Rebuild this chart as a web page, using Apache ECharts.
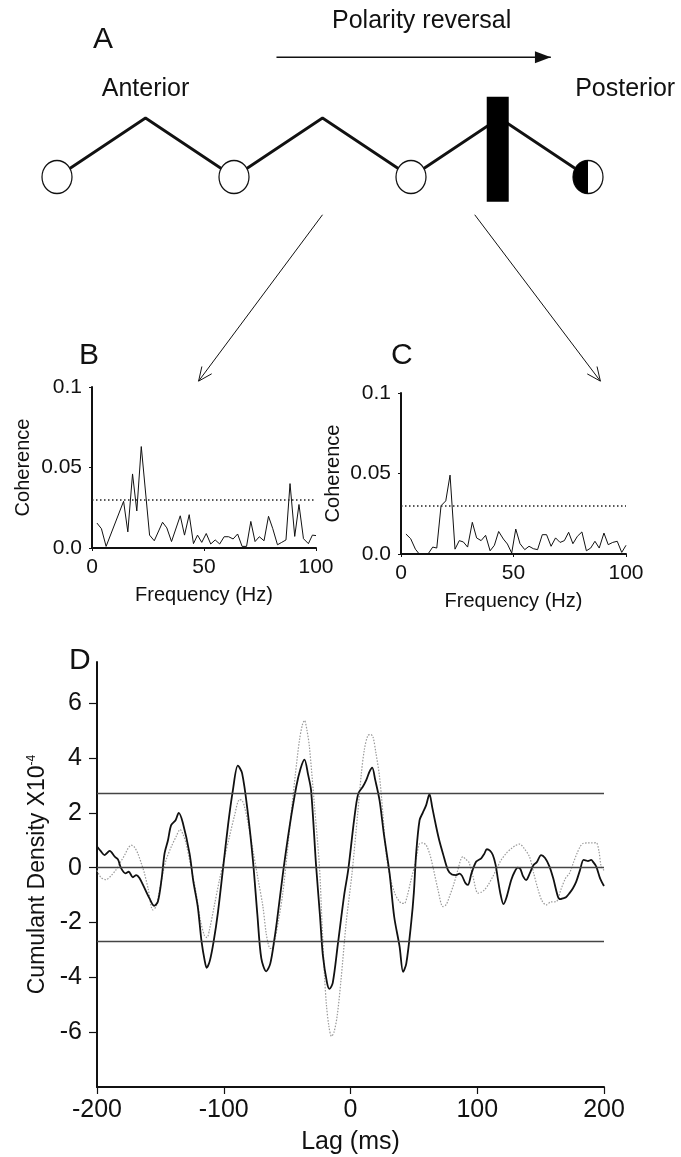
<!DOCTYPE html>
<html>
<head>
<meta charset="utf-8">
<script src="https://cdn.jsdelivr.net/npm/echarts@6/dist/echarts.min.js"></script>
<style>
  html, body { margin: 0; padding: 0; background: #fff; }
  #chart { width: 681px; height: 1157px; }
</style>
</head>
<body>
<div id="chart"></div>
<script>
// Panel A schematic, in node units (nodes at x = 0..3, zigzag peak at y = 1)
const nodeX = [0, 1, 2, 3];
const zigzagX = [0, 0.5, 1, 1.5, 2, 2.5, 3];
const zigzagY = [0, 1, 0, 1, 0, 1, 0];
const blockAt = [2.49, 0.47];
const labelsA = ["A", "Polarity reversal", "Anterior", "Posterior"];
const labelsAX = [0.26, 2.06, 0.5, 3.21];
const labelsAY = [2.33, 2.64, 1.49, 1.49];
// arrows: x0, y0, x1, y1, filled head (1) or open head (0)
const arrowsA = [
  [1.24, 2.03, 2.79, 2.03, 1],
  [1.5, -0.64, 0.8, -3.46, 0],
  [2.36, -0.64, 3.07, -3.46, 0],
];

// Panel B and C: coherence spectra
const freqB = [2.2, 4.2, 6.3, 14.1, 16.0, 18.1, 20.0, 22.0, 25.7, 27.8, 31.5, 33.4, 35.5, 39.4, 41.3,
  43.4, 45.3, 47.1, 49.0, 51.0, 53.0, 55.0, 57.0, 59.0, 61.0, 63.0, 65.0, 67.0, 69.0, 70.9,
  72.8, 74.7, 76.8, 78.8, 80.7, 82.8, 84.7, 86.6, 88.4, 90.5, 92.4, 94.4, 96.6, 98.4, 100];
const cohB = [0.0155, 0.012, 0.001, 0.029, 0.010, 0.046, 0.023, 0.063, 0.008, 0.0045, 0.016, 0.0125, 0.004, 0.020, 0.008,
  0.0207, 0.0027, 0.008, 0.0035, 0.009, 0.0025, 0.005, 0.0025, 0.007, 0.007, 0.0056, 0.0087, 0.001, 0.001, 0.0165,
  0.004, 0.007, 0.0045, 0.0197, 0.012, 0.002, 0.0035, 0.005, 0.040, 0.0072, 0.027, 0.0058, 0.0027, 0.008, 0.0077];
const freqC = [2.2, 4.3, 6.4, 8.1, 12.0, 14.1, 15.9, 17.8, 19.9, 21.8, 24.0, 25.9, 27.7, 29.6, 31.7,
  33.6, 35.6, 37.6, 39.6, 41.5, 43.4, 45.5, 47.3, 49.2, 51.0, 52.9, 55.0, 56.9, 58.8, 60.7,
  62.8, 64.7, 66.7, 68.7, 70.7, 72.6, 74.5, 76.4, 78.4, 80.4, 82.4, 84.3, 86.2, 88.1, 90.2,
  92.1, 94.1, 96.1, 98.1, 100];
const cohC = [0.0124, 0.0095, 0.003, 0, 0, 0.0043, 0.0037, 0.030, 0.033, 0.049, 0.003, 0.0083, 0.0075, 0.0043, 0.0197,
  0.010, 0.0083, 0.0116, 0.002, 0.0054, 0.014, 0.0093, 0.0062, 0.0006, 0.0155, 0.0064, 0.0027, 0.0048, 0.0033, 0.0027,
  0.012, 0.012, 0.0048, 0.010, 0.0072, 0.0083, 0.0135, 0.0064, 0.011, 0.0137, 0.002, 0.0037, 0.0079, 0.0037, 0.013,
  0.0058, 0.0072, 0.0079, 0.001, 0.0054];
const cohLimit = 0.03;

// Panel D: cumulant density (x10^-4) against lag (ms)
const lagSolid = [-200, -197, -194, -190, -186, -183.5, -181, -177.5, -175, -171.7, -169, -166.5, -162.5, -158.6, -155,
  -152, -149, -146.7, -144, -141.5, -138, -135.5, -132.3, -127, -124, -120.5, -117.5, -115, -113.5, -111,
  -108, -104.5, -100.7, -96.5, -92.8, -88.9, -85.5, -81, -77, -73.5, -70.4, -66.5, -63.3, -60, -57.9,
  -53, -48.1, -42.8, -39.5, -36.3, -33.5, -31.1, -27.1, -24, -21.8, -18.5, -16.6, -14, -10, -5,
  -1.8, 3, 6.1, 9.7, 12.5, 15, 17.1, 19.5, 22.9, 26.4, 30.8, 34.5, 38.7, 41.5, 44,
  47.9, 50, 51.8, 54.5, 57, 59.7, 62.3, 64.5, 67.6, 70, 72.9, 76.8, 80, 83.4, 86,
  88, 90.5, 92.6, 95.5, 99.2, 103.1, 105.5, 107.6, 110, 112.3, 114.5, 116.2, 118.5, 120.7, 123,
  126.8, 129.5, 132, 134, 136, 138.6, 141.5, 144.4, 147, 150.4, 153.5, 157, 160, 163.6, 165.5,
  167.5, 170, 172.8, 175.5, 178.1, 181, 183.9, 186, 187.3, 189.9, 191.5, 193.9, 197, 200];
const cumSolid = [0.77, 0.6, 0.46, 0.61, 0.4, 0.3, -0.02, -0.21, -0.15, -0.35, -0.27, -0.38, -0.75, -1.12, -1.39,
  -1.24, -0.4, 0.52, 1.0, 1.55, 1.73, 2.0, 1.64, 0.52, -0.5, -1.42, -2.7, -3.4, -3.65, -3.4,
  -2.7, -1.6, -0.08, 1.6, 2.82, 3.72, 3.44, 2.0, 0.28, -1.7, -3.3, -3.78, -3.5, -2.6, -1.9,
  -0.1, 1.49, 2.95, 3.6, 3.94, 3.4, 2.82, 0.04, -1.8, -3.2, -4.2, -4.42, -4.2, -2.8, -1.0,
  -0.08, 1.8, 2.7, 2.95, 3.2, 3.5, 3.65, 3.2, 2.46, 1.2, -0.2, -1.8, -2.87, -3.8, -3.5,
  -2.0, -0.9, 0.52, 1.73, 2.0, 2.28, 2.68, 2.2, 1.49, 1.0, 0.52, -0.08, -0.25, -0.27, -0.22,
  -0.3, -0.55, -0.63, -0.2, 0.22, 0.34, 0.5, 0.67, 0.62, 0.46, 0.1, -0.39, -1.0, -1.33, -1.1,
  -0.45, -0.15, 0, -0.05, -0.3, -0.45, -0.2, 0.1, 0.2, 0.46, 0.35, 0.04, -0.4, -1.05, -1.15,
  -1.12, -1.08, -0.93, -0.75, -0.51, -0.1, 0.28, 0.26, 0.24, 0.28, 0.2, 0.04, -0.4, -0.67];
const lagDotted = [-200, -197, -193, -189, -185, -181.5, -178.3, -175.5, -173, -170.5, -167.8, -165, -162.6, -159.5, -156,
  -153.4, -151, -148, -145.5, -141.5, -137.6, -134.4, -132, -129.7, -125.8, -121.8, -118.5, -115.2, -113.2, -111.3,
  -107.5, -103.4, -99.5, -95.5, -91.5, -87.6, -85.5, -83.6, -80.3, -77, -73, -69.1, -66.5, -63.9, -62,
  -60, -56.7, -53.4, -50, -46.8, -43.5, -40.3, -38, -36.3, -34.3, -32.4, -28.5, -24.5, -22.5, -20.5,
  -19, -17, -15, -13, -10.5, -7.5, -3.4, 1.2, 5.7, 8.5, 10.9, 13.7, 16, 17.7, 20,
  22.9, 25.5, 28.1, 31.5, 35, 38, 40.5, 42.6, 44.6, 47.5, 50.4, 52.5, 54.5, 57, 59.7,
  62.5, 65, 69, 72.9, 75.5, 78.1, 81.5, 84.7, 87, 88.6, 91, 93.4, 96.5, 100.5, 103,
  105.5, 109, 112, 115, 118.5, 122.8, 127, 130, 133.4, 137, 141.2, 144.5, 148, 151, 154.4,
  158, 162.3, 166, 169.5, 172.8, 176, 178.5, 181, 183.3, 187, 190.5, 193.9, 196, 197.8, 200];
const cumDotted = [-0.1, -0.35, -0.44, -0.3, -0.08, 0.2, 0.45, 0.7, 0.82, 0.75, 0.52, 0.15, -0.2, -0.8, -1.54,
  -1.42, -0.9, -0.2, 0.28, 0.75, 1.13, 1.39, 1.2, 0.88, 0.0, -0.93, -1.9, -2.48, -2.55, -2.27,
  -1.4, -0.45, 0.35, 1.13, 1.9, 2.48, 2.45, 2.22, 1.5, 0.64, -0.4, -1.42, -2.4, -2.93, -2.95,
  -2.69, -1.9, -0.93, 0.5, 1.98, 3.4, 4.64, 5.2, 5.37, 5.0, 4.4, 2.3, 0.04, -2.0, -3.95,
  -5.0, -5.8, -6.15, -6.0, -5.4, -4.1, -2.0, -0.2, 1.98, 3.4, 4.3, 4.82, 4.85, 4.78, 4.2,
  3.32, 2.0, 0.52, -0.4, -0.94, -1.2, -1.3, -1.3, -1.06, -0.5, 0.04, 0.5, 0.88, 0.9, 0.82,
  0.5, 0.04, -0.8, -1.42, -1.35, -1.05, -0.6, -0.08, 0.3, 0.4, 0.3, 0.2, -0.3, -0.93, -0.9,
  -0.82, -0.6, -0.35, -0.08, 0.25, 0.52, 0.7, 0.8, 0.86, 0.7, 0.4, -0.2, -0.8, -1.2, -1.36,
  -1.25, -1.24, -0.8, -0.4, -0.2, 0.2, 0.5, 0.75, 0.88, 0.9, 0.9, 0.91, 0.6, 0.04, -0.1];
const cumLimits = [2.7, 0, -2.7];

const FONT = "Liberation Sans, Arial, Helvetica, sans-serif";
const zip = (xs, ys) => xs.map((x, i) => [x, ys[i]]);

function renderArrow(params, api) {
  const p0 = api.coord([api.value(0), api.value(1)]);
  const p1 = api.coord([api.value(2), api.value(3)]);
  const filled = api.value(4) === 1;
  const ang = Math.atan2(p1[1] - p0[1], p1[0] - p0[0]);
  const len = filled ? 17 : 15;
  const spread = filled ? 0.36 : 0.42;
  const h1 = [p1[0] - len * Math.cos(ang - spread), p1[1] - len * Math.sin(ang - spread)];
  const h2 = [p1[0] - len * Math.cos(ang + spread), p1[1] - len * Math.sin(ang + spread)];
  const children = [
    { type: "line", shape: { x1: p0[0], y1: p0[1], x2: p1[0], y2: p1[1] }, style: { stroke: "#111", lineWidth: filled ? 1.4 : 1 } },
  ];
  if (filled) {
    children.push({ type: "polygon", shape: { points: [p1, h1, h2] }, style: { fill: "#111" } });
  } else {
    children.push({ type: "polyline", shape: { points: [h1, p1, h2] }, style: { stroke: "#111", lineWidth: 1, fill: null } });
  }
  return { type: "group", children };
}

function cohAxes(gridIndex) {
  return {
    x: {
      gridIndex, type: "value", min: 0, max: 100, interval: 50,
      name: "Frequency (Hz)", nameLocation: "middle", nameGap: 37,
      nameTextStyle: { fontFamily: FONT, fontSize: 20, color: "#111" },
      axisLine: { onZero: false, lineStyle: { color: "#111", width: 2 } },
      axisTick: { length: 3, lineStyle: { color: "#111" } },
      axisLabel: { fontFamily: FONT, fontSize: 21, color: "#111", margin: 9 },
      splitLine: { show: false },
    },
    y: {
      gridIndex, type: "value", min: 0, max: 0.1, interval: 0.05,
      name: "Coherence", nameLocation: "middle", nameGap: 59, nameRotate: 90,
      nameTextStyle: { fontFamily: FONT, fontSize: 20, color: "#111" },
      axisLine: { show: true, onZero: false, lineStyle: { color: "#111", width: 2 } },
      axisTick: { show: true, length: 3, lineStyle: { color: "#111" } },
      axisLabel: { fontFamily: FONT, fontSize: 21, color: "#111", margin: 10, formatter: (v) => (v === 0 ? "0.0" : String(+v.toFixed(2))) },
      splitLine: { show: false },
    },
  };
}

const axB = cohAxes(1);
const axC = cohAxes(2);
axC.y.nameGap = 58;

const cohLimitLine = {
  silent: true, symbol: "none", label: { show: false },
  lineStyle: { color: "#222", width: 1.6, type: [1.5, 2.5] },
  data: [{ yAxis: cohLimit }],
};

const option = {
  animation: false,
  backgroundColor: "#fff",
  title: [
    { text: "B", left: 74, top: 336, textStyle: { fontFamily: FONT, fontSize: 30, fontWeight: "normal", color: "#111" } },
    { text: "C", left: 386, top: 336, textStyle: { fontFamily: FONT, fontSize: 30, fontWeight: "normal", color: "#111" } },
    { text: "D", left: 64, top: 641, textStyle: { fontFamily: FONT, fontSize: 30, fontWeight: "normal", color: "#111" } },
  ],
  grid: [
    { left: 57, top: 118, width: 531, height: 59 },
    { left: 92, top: 387, width: 224, height: 161 },
    { left: 401, top: 393, width: 225, height: 161 },
    { left: 97, top: 662, width: 507, height: 425 },
  ],
  xAxis: [
    { gridIndex: 0, type: "value", min: 0, max: 3, show: false },
    axB.x,
    axC.x,
    {
      gridIndex: 3, type: "value", min: -200, max: 200, interval: 100,
      name: "Lag (ms)", nameLocation: "middle", nameGap: 43,
      nameTextStyle: { fontFamily: FONT, fontSize: 25, color: "#111" },
      axisLine: { onZero: false, lineStyle: { color: "#111", width: 2 } },
      axisTick: { length: 7, lineStyle: { color: "#111", width: 1.2 } },
      axisLabel: { fontFamily: FONT, fontSize: 25, color: "#111", margin: 11 },
      splitLine: { show: false },
    },
  ],
  yAxis: [
    { gridIndex: 0, type: "value", min: 0, max: 1, show: false },
    axB.y,
    axC.y,
    {
      gridIndex: 3, type: "value", min: -8, max: 7.5, interval: 2,
      name: "Cumulant Density X10{sup|-4}", nameLocation: "middle", nameGap: 47, nameRotate: 90,
      nameTextStyle: {
        fontFamily: FONT, fontSize: 23, color: "#111",
        rich: { sup: { fontFamily: FONT, fontSize: 12, color: "#111", verticalAlign: "top", lineHeight: 12 } },
      },
      axisLine: { show: true, onZero: false, lineStyle: { color: "#111", width: 2 } },
      axisTick: { show: true, length: 8, lineStyle: { color: "#111", width: 1.2 } },
      axisLabel: { fontFamily: FONT, fontSize: 25, color: "#111", margin: 15, showMinLabel: false, showMaxLabel: false },
      splitLine: { show: false },
    },
  ],
  series: [
    // panel A
    {
      type: "line", xAxisIndex: 0, yAxisIndex: 0, clip: false, silent: true, symbol: "none", z: 2,
      lineStyle: { color: "#111", width: 2.8 },
      data: zip(zigzagX, zigzagY),
    },
    {
      type: "scatter", xAxisIndex: 0, yAxisIndex: 0, clip: false, silent: true, z: 3,
      symbol: "rect", symbolSize: [22, 105],
      itemStyle: { color: "#000", opacity: 1 },
      data: [blockAt],
    },
    {
      type: "scatter", xAxisIndex: 0, yAxisIndex: 0, clip: false, silent: true, z: 4,
      symbol: "circle", symbolSize: [30, 33],
      itemStyle: { color: "#fff", borderColor: "#111", borderWidth: 1.3, opacity: 1 },
      data: nodeX.map((x) => [x, 0]),
    },
    {
      type: "scatter", xAxisIndex: 0, yAxisIndex: 0, clip: false, silent: true, z: 5,
      symbol: "path://M50,0 A50,50 0 0,0 50,100 Z", symbolSize: [15, 33], symbolOffset: [-7.5, 0],
      itemStyle: { color: "#000", opacity: 1 },
      data: [[nodeX[nodeX.length - 1], 0]],
    },
    {
      type: "custom", xAxisIndex: 0, yAxisIndex: 0, clip: false, silent: true, z: 6,
      renderItem: renderArrow,
      encode: { x: [0, 2], y: [1, 3] },
      data: arrowsA,
    },
    {
      type: "scatter", xAxisIndex: 0, yAxisIndex: 0, clip: false, silent: true, z: 7,
      symbolSize: 0,
      itemStyle: { opacity: 1 },
      label: {
        show: true, position: "inside", fontFamily: FONT, color: "#111", opacity: 1,
        formatter: (p) => p.name,
      },
      data: labelsA.map((name, i) => ({
        name, value: [labelsAX[i], labelsAY[i]],
        label: { fontSize: name === "A" ? 30 : 25 },
      })),
    },
    // panel B
    {
      type: "line", xAxisIndex: 1, yAxisIndex: 1, symbol: "none", silent: true,
      lineStyle: { color: "#111", width: 1 },
      data: zip(freqB, cohB),
      markLine: cohLimitLine,
    },
    // panel C
    {
      type: "line", xAxisIndex: 2, yAxisIndex: 2, symbol: "none", silent: true,
      lineStyle: { color: "#111", width: 1 },
      data: zip(freqC, cohC),
      markLine: cohLimitLine,
    },
    // panel D
    {
      type: "line", xAxisIndex: 3, yAxisIndex: 3, symbol: "none", silent: true, z: 3, smooth: 0.3,
      lineStyle: { color: "#999", width: 1.2, type: [1.5, 1.5] },
      data: zip(lagDotted, cumDotted),
    },
    {
      type: "line", xAxisIndex: 3, yAxisIndex: 3, symbol: "none", silent: true, z: 4, smooth: 0.3,
      lineStyle: { color: "#111", width: 1.8 },
      data: zip(lagSolid, cumSolid),
      markLine: {
        silent: true, symbol: "none", label: { show: false },
        lineStyle: { color: "#444", width: 1.3, type: "solid" },
        data: cumLimits.map((v) => ({ yAxis: v })),
      },
    },
  ],
};

const chart = echarts.init(document.getElementById("chart"), null, { renderer: "canvas" });
chart.setOption(option);
</script>
</body>
</html>
